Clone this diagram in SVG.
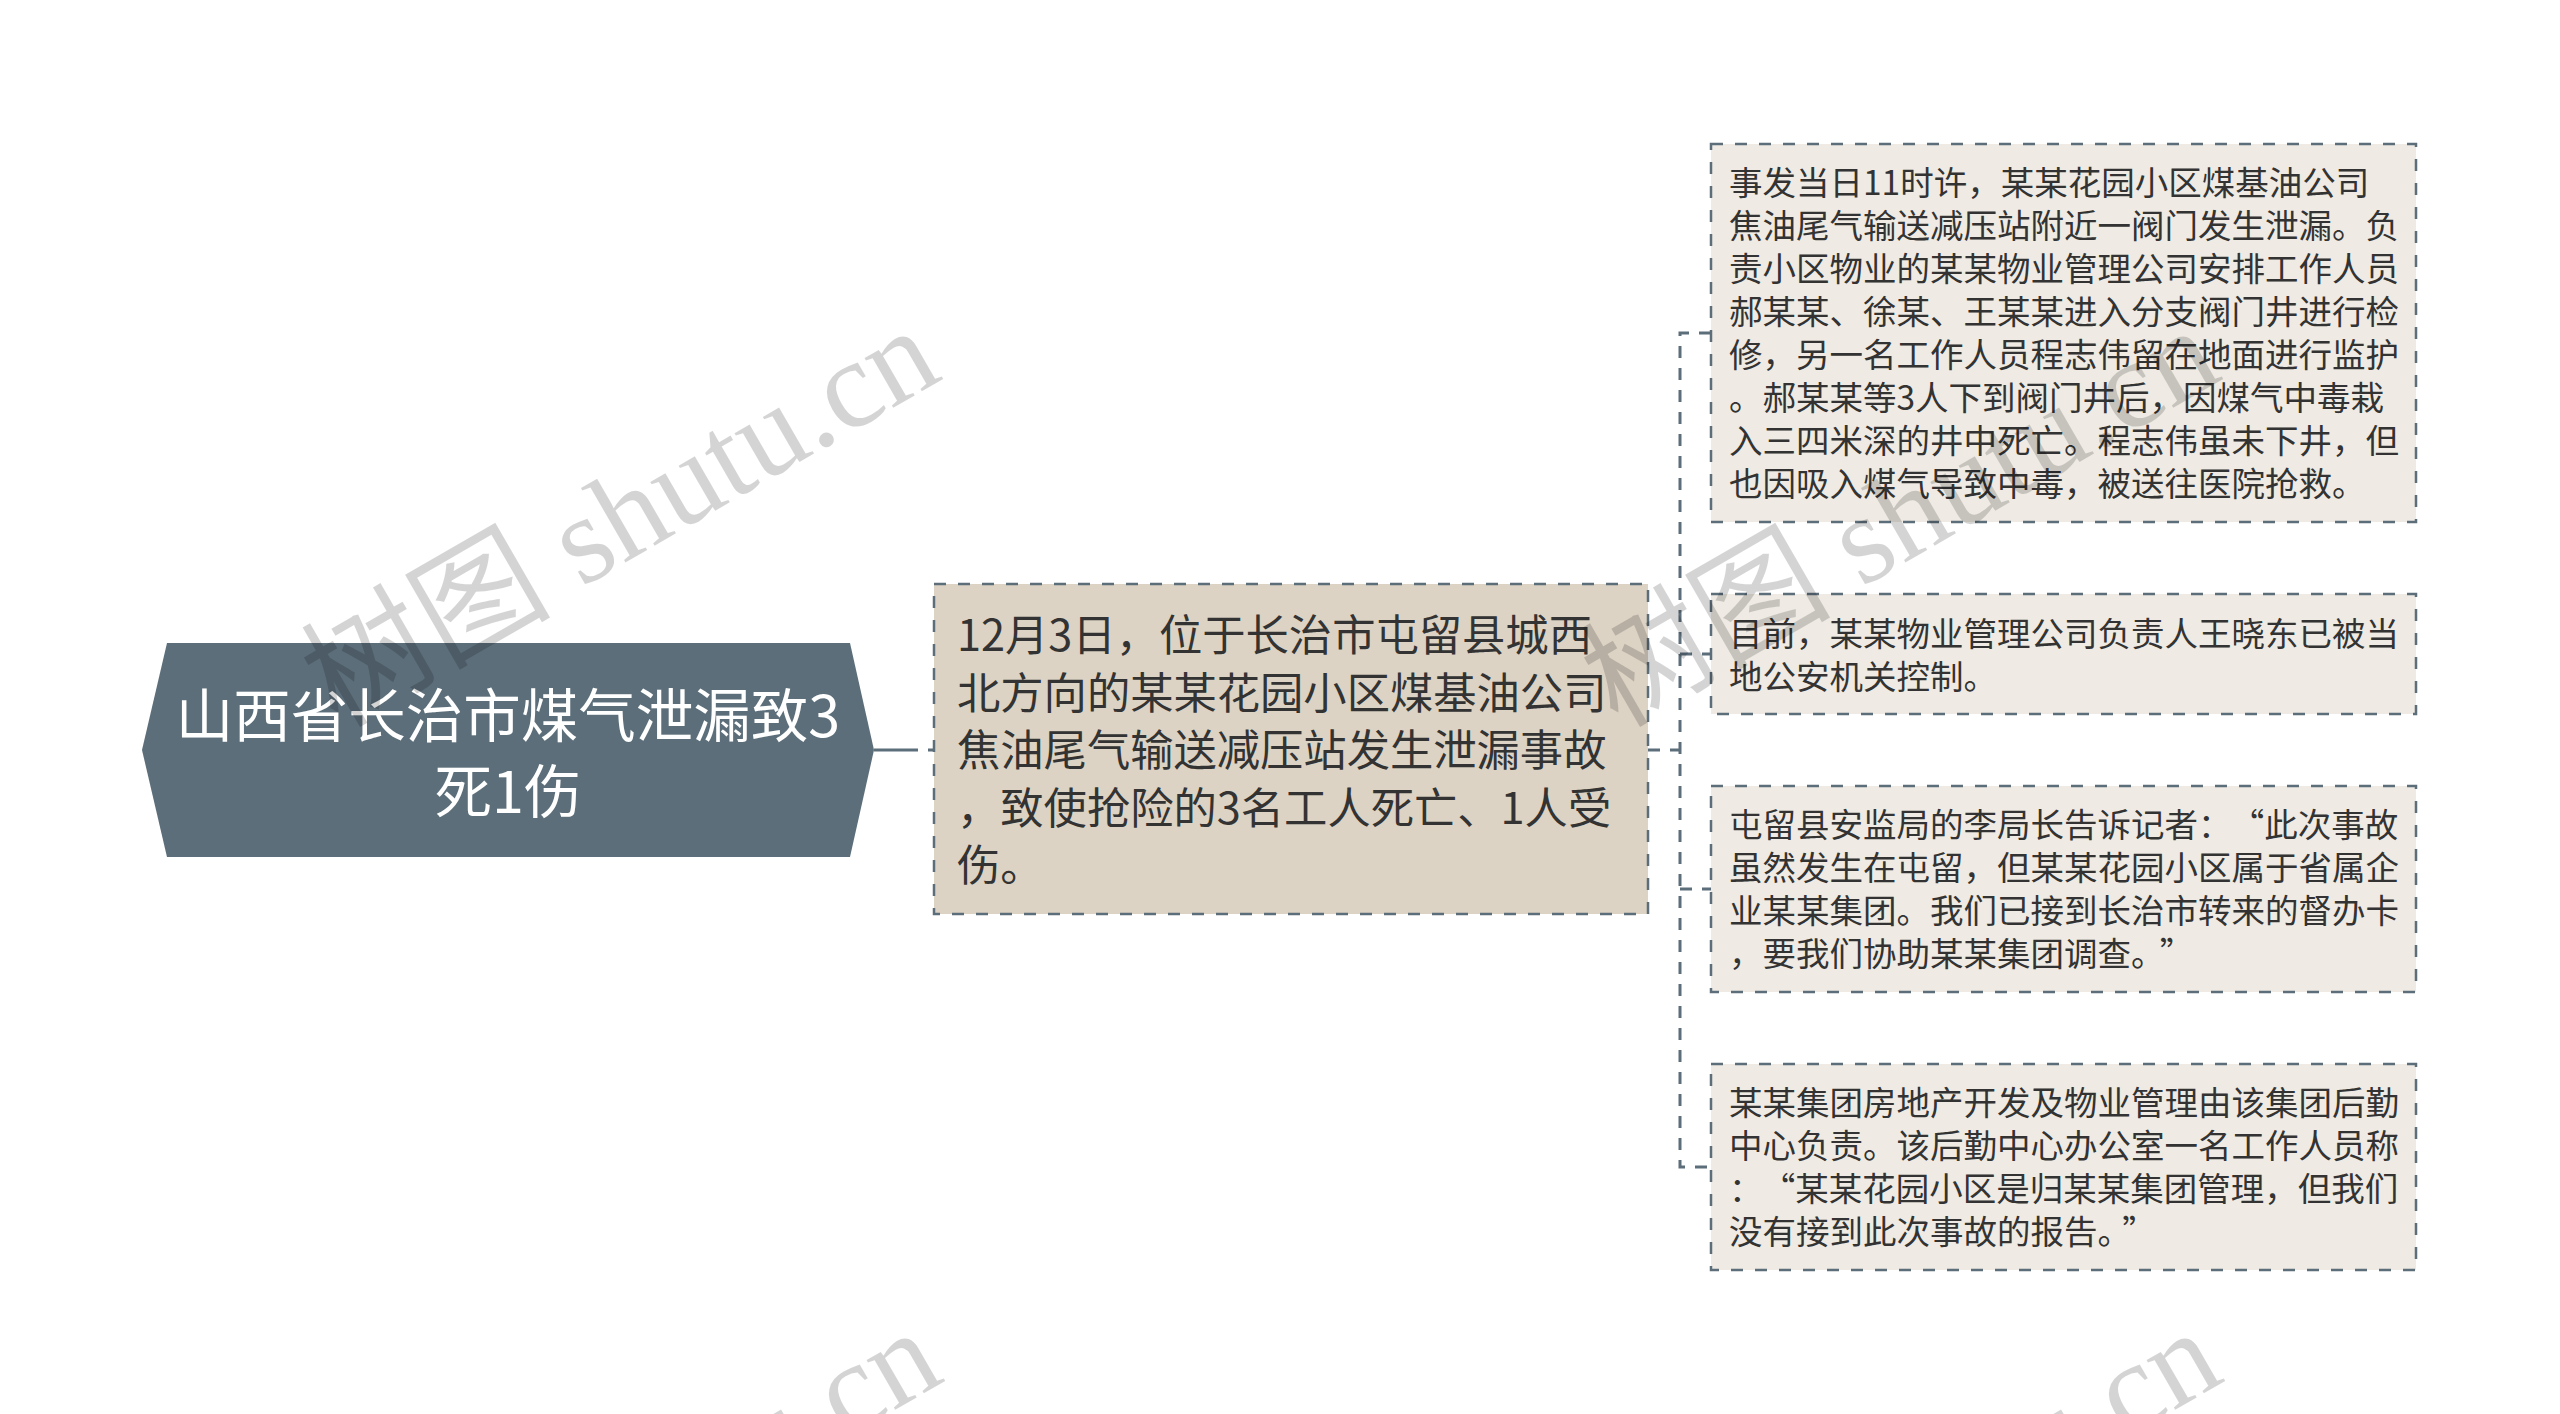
<svg xmlns="http://www.w3.org/2000/svg" width="2560" height="1414" viewBox="0 0 2560 1414">
<style>
.bg{fill:#ffffff}
.root{fill:#5c6e7a}
.mid{fill:#ddd3c4;stroke:#5c6e7a;stroke-width:2.5;stroke-dasharray:12 12}
.leaf{fill:#efebe4;stroke:#5c6e7a;stroke-width:2.5;stroke-dasharray:12 12}
.conn{fill:none;stroke:#5c6e7a;stroke-width:3;stroke-dasharray:12 10}
.t{font-family:"Noto Sans CJK SC","Noto Sans",sans-serif;fill:#333333}
.rt{font-family:"Noto Sans CJK SC","Noto Sans",sans-serif;fill:#ffffff;font-size:57.5px}
.mt{font-size:43.3px}
.lt{font-size:33.5px}
.wm{font-family:"Liberation Serif","Noto Sans CJK SC",serif;font-size:125px;fill:#000000;fill-opacity:0.17}
</style>
<rect class="bg" x="0" y="0" width="2560" height="1414"/>
<g id="connectors">
<path d="M874,750 H935" fill="none" stroke="#5c6e7a" stroke-width="3" stroke-dasharray="44 10 10 10"/>
<path class="conn" d="M1648,750 H1680"/>
<path class="conn" d="M1711,333 H1680 V1167 H1711"/>
<path class="conn" d="M1680,654 H1711"/>
<path class="conn" d="M1680,889 H1711"/>
</g>
<g id="root">
<polygon class="root" points="142,750 167,643 850,643 874,750 850,857 167,857"/>
<text class="rt" x="508" y="737" text-anchor="middle">山西省长治市煤气泄漏致3</text>
<text class="rt" x="508" y="813" text-anchor="middle">死1伤</text>
</g>
<g id="middle">
<rect class="mid" x="934" y="584" width="714" height="330"/>
<text class="t mt" x="957" y="651">12月3日，位于长治市屯留县城西</text>
<text class="t mt" x="957" y="709">北方向的某某花园小区煤基油公司</text>
<text class="t mt" x="957" y="766">焦油尾气输送减压站发生泄漏事故</text>
<text class="t mt" x="957" y="824">，致使抢险的3名工人死亡、1人受</text>
<text class="t mt" x="957" y="881">伤。</text>
</g>
<g id="leaf1">
<rect class="leaf" x="1711" y="144" width="705" height="378"/>
<text class="t lt" x="1729" y="195">事发当日11时许，某某花园小区煤基油公司</text>
<text class="t lt" x="1729" y="238">焦油尾气输送减压站附近一阀门发生泄漏。负</text>
<text class="t lt" x="1729" y="281">责小区物业的某某物业管理公司安排工作人员</text>
<text class="t lt" x="1729" y="324">郝某某、徐某、王某某进入分支阀门井进行检</text>
<text class="t lt" x="1729" y="367">修，另一名工作人员程志伟留在地面进行监护</text>
<text class="t lt" x="1729" y="410">。郝某某等3人下到阀门井后，因煤气中毒栽</text>
<text class="t lt" x="1729" y="453">入三四米深的井中死亡。程志伟虽未下井，但</text>
<text class="t lt" x="1729" y="496">也因吸入煤气导致中毒，被送往医院抢救。</text>
</g>
<g id="leaf2">
<rect class="leaf" x="1711" y="594" width="705" height="120"/>
<text class="t lt" x="1729" y="646">目前，某某物业管理公司负责人王晓东已被当</text>
<text class="t lt" x="1729" y="689">地公安机关控制。</text>
</g>
<g id="leaf3">
<rect class="leaf" x="1711" y="786" width="705" height="206"/>
<text class="t lt" x="1729" y="837">屯留县安监局的李局长告诉记者：<tspan dx="16">“</tspan>此次事故</text>
<text class="t lt" x="1729" y="880">虽然发生在屯留，但某某花园小区属于省属企</text>
<text class="t lt" x="1729" y="923">业某某集团。我们已接到长治市转来的督办卡</text>
<text class="t lt" x="1729" y="966">，要我们协助某某集团调查。<tspan dx="12">”</tspan></text>
</g>
<g id="leaf4">
<rect class="leaf" x="1711" y="1064" width="705" height="206"/>
<text class="t lt" x="1729" y="1115">某某集团房地产开发及物业管理由该集团后勤</text>
<text class="t lt" x="1729" y="1158">中心负责。该后勤中心办公室一名工作人员称</text>
<text class="t lt" x="1729" y="1201">：<tspan dx="16">“</tspan>某某花园小区是归某某集团管理，但我们</text>
<text class="t lt" x="1729" y="1244">没有接到此次事故的报告。<tspan dx="8">”</tspan></text>
</g>
<g id="watermarks">
<text class="wm" text-anchor="end" transform="translate(945,378) rotate(-30)">树图 shutu.cn</text>
<text class="wm" text-anchor="end" transform="translate(2225,378) rotate(-30)">树图 shutu.cn</text>
<text class="wm" text-anchor="end" transform="translate(947,1380) rotate(-30)">树图 shutu.cn</text>
<text class="wm" text-anchor="end" transform="translate(2227,1380) rotate(-30)">树图 shutu.cn</text>
</g>
</svg>
